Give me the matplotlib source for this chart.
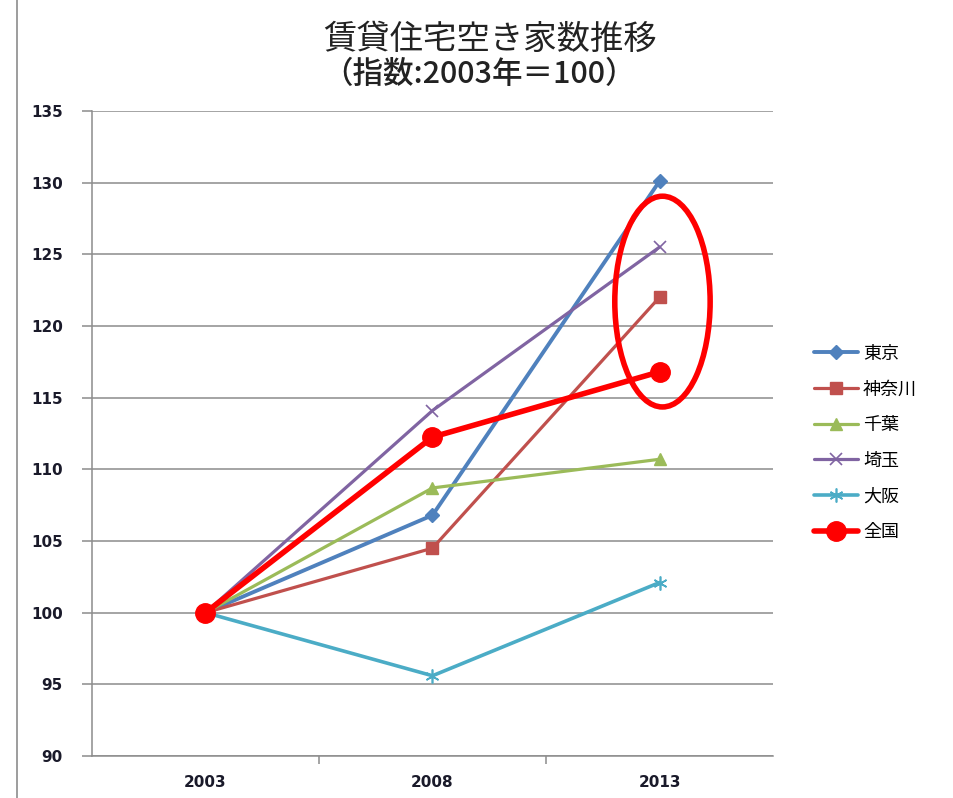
import matplotlib
matplotlib.use("Agg")
import matplotlib.pyplot as plt
from matplotlib.patches import Ellipse
from matplotlib.lines import Line2D

plt.rcParams['font.family'] = ['Noto Sans CJK JP', 'DejaVu Sans']

years = ['2003', '2008', '2013']
tokyo = [100, 106.8, 130.1]
kanagawa = [100, 104.5, 122.0]
chiba = [100, 108.7, 110.7]
saitama = [100, 114.1, 125.5]
osaka = [100, 95.6, 102.1]
zenkoku = [100, 112.25, 116.8]

series = [
    ('東京', tokyo, '#4F81BD', 'D', 7, 2.8),
    ('神奈川', kanagawa, '#C0504D', 's', 8, 2.3),
    ('千葉', chiba, '#9BBB59', '^', 8.5, 2.3),
    ('埼玉', saitama, '#8064A2', 'x', 9, 2.3),
    ('大阪', osaka, '#4BACC6', (6, 2, 0), 10, 2.6),
    ('全国', zenkoku, '#FF0000', 'o', 14, 4.0),
]

fig = plt.figure(figsize=(9.54, 7.98), dpi=100)
ax = fig.add_axes([0.0964, 0.0526, 0.7139, 0.8084])

x = range(len(years))
for name, vals, color, marker, ms, lw in series:
    thin = marker == 'x' or isinstance(marker, tuple)
    ax.plot(x, vals, color=color, lw=lw, marker=marker, markersize=ms,
            markeredgewidth=1.2 if thin else 1, markeredgecolor=color,
            label=name, zorder=3, solid_capstyle='round')

# highlight around the 2013 values
ax.add_patch(Ellipse((2.013, 121.7), 0.42, 14.7, fill=False, edgecolor='#FF0000',
                     lw=4, zorder=4))

ax.set_xlim(-0.5, 2.5)
ax.set_ylim(90, 135)
ax.set_yticks(range(90, 136, 5))
ax.set_xticks(list(x))
ax.set_xticklabels(years)
ax.set_xticks([0.5, 1.5], minor=True)
ax.grid(axis='y', color='#8c8c8c', lw=1.1, zorder=0)

for s in ['top', 'right']:
    ax.spines[s].set_visible(False)
for s in ['left', 'bottom']:
    ax.spines[s].set_color('#8c8c8c')
    ax.spines[s].set_linewidth(1.1)

ax.tick_params(axis='y', length=7, color='#8c8c8c', width=1.1, labelsize=11,
               pad=14, labelcolor='#1a1a2a')
ax.tick_params(axis='x', which='major', length=0, labelsize=11, pad=14,
               labelcolor='#1a1a2a')
ax.tick_params(axis='x', which='minor', length=6, color='#8c8c8c', width=1.1)
for lbl in ax.get_yticklabels() + ax.get_xticklabels():
    lbl.set_family('DejaVu Sans')
    lbl.set_fontweight('bold')

fig.text(0.514, 0.951, '賃貸住宅空き家数推移', ha='center', va='center',
         fontsize=24, color='#222222')
fig.text(0.502, 0.907, '（指数:2003年＝100）', ha='center', va='center',
         fontsize=22, color='#222222', fontweight='medium')

# frame line at the left edge of the chart area
fig.add_artist(Line2D([0.018, 0.018], [0, 1], color='#8c8c8c', lw=1.2,
                      transform=fig.transFigure))

handles, labels = ax.get_legend_handles_labels()
fig.legend(handles, labels, loc='center left', bbox_to_anchor=(0.846, 0.445),
           frameon=False, fontsize=13, handlelength=2.4, handletextpad=0.3,
           labelspacing=0.98, borderaxespad=0)

fig.savefig('out.png', dpi=100)
